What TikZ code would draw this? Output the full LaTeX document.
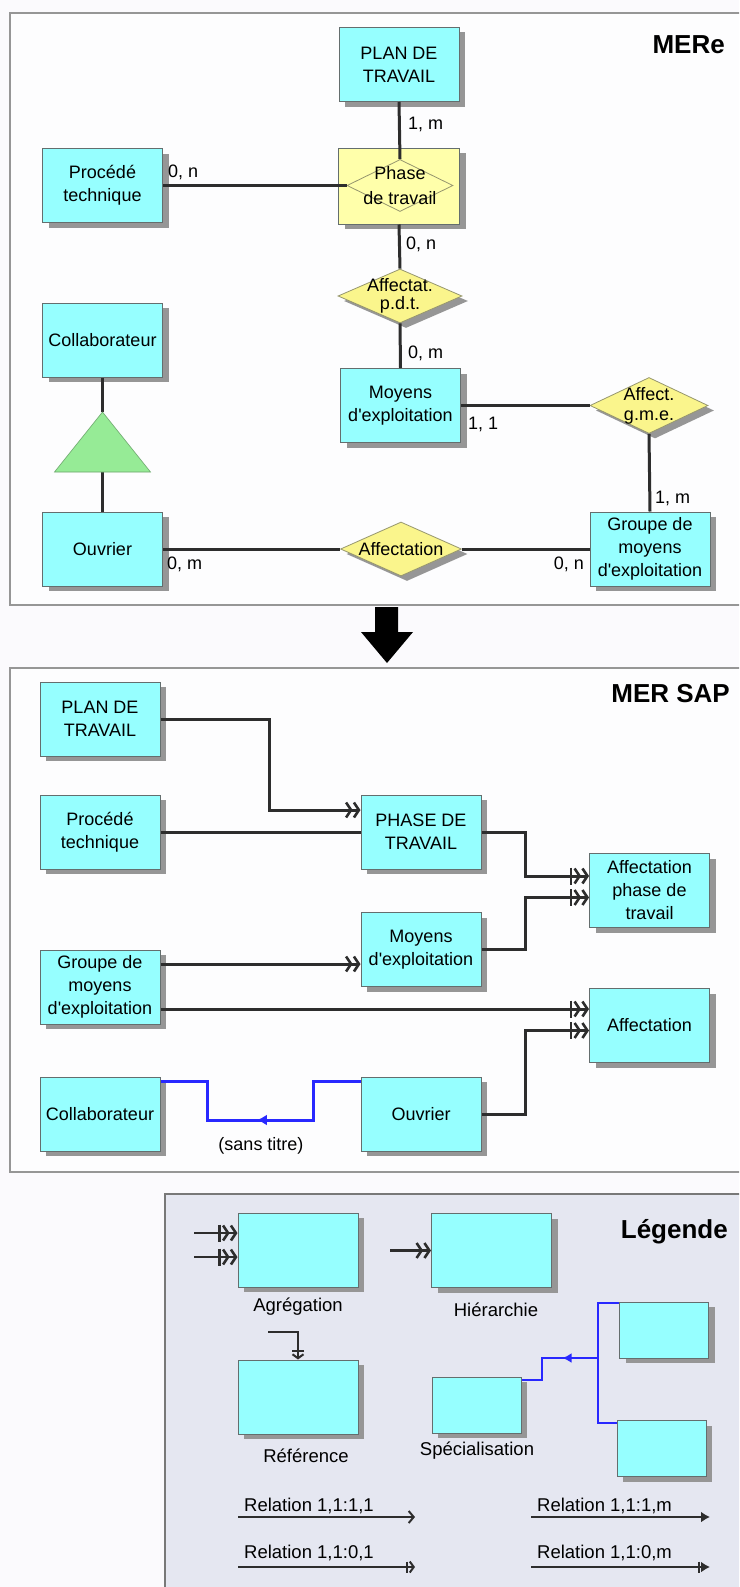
\documentclass[tikz,border=0pt]{standalone}
\usepackage{fontspec}
\setmainfont{Liberation Sans}[Ligatures=TeXOff]
\usepackage{xcolor}
\usetikzlibrary{arrows.meta,positioning,shapes.geometric,shadows,decorations.markings}

\definecolor{pagebg}{RGB}{251,250,253}
\definecolor{entcyan}{RGB}{150,255,255}
\definecolor{relyellow}{RGB}{250,245,140}
\definecolor{phaseyellow}{RGB}{255,255,170}
\definecolor{trigreen}{RGB}{150,235,150}
\definecolor{framegray}{RGB}{150,150,150}
\definecolor{legendfill}{RGB}{229,231,241}
\definecolor{boxline}{RGB}{100,110,110}
\definecolor{relline}{RGB}{150,150,110}
\definecolor{linkgray}{RGB}{45,45,45}
\definecolor{specblue}{RGB}{40,40,255}
\definecolor{shadowgray}{RGB}{150,150,150}

\begin{document}
\begin{tikzpicture}[
    x=1pt, y=-1pt,
    every node/.style={font=\fontsize{18}{23}\selectfont},
    shadowed/.style={drop shadow={shadow xshift=6pt, shadow yshift=-5pt, fill=shadowgray, opacity=1}},
    entity/.style={rectangle, draw=boxline, line width=1pt, fill=entcyan, minimum width=120pt, minimum height=74pt, align=center, inner sep=2pt, shadowed},
    smallbox/.style={entity, minimum width=89pt, minimum height=56pt},
    rel/.style={diamond, draw=relline, line width=0.8pt, fill=relyellow, inner sep=0pt},
    reltext/.style={align=center, font=\fontsize{18}{20}\selectfont, inner sep=0pt},
    card/.style={anchor=west, inner sep=0pt},
    legtext/.style={inner sep=0pt, font=\fontsize{18.5}{23}\selectfont},
    link/.style={draw=linkgray, line width=3pt},
    hier/.style={link, -{Straight Barb[length=5pt,width=15pt,line width=2.6pt] Straight Barb[length=5pt,width=15pt,line width=2.6pt]}},
    agg/.style={link, -{Bar[width=17pt,line width=2.4pt,sep=1pt] Straight Barb[length=5pt,width=15pt,line width=2.6pt] Straight Barb[length=5pt,width=15pt,line width=2.6pt]}},
    spec/.style={draw=specblue, line width=3pt},
    frame/.style={draw=framegray, line width=2pt},
    title/.style={anchor=east, inner sep=0pt, font=\fontsize{26}{30}\selectfont\bfseries},
]
\useasboundingbox (0,0) rectangle (739,1587);
\clip (0,0) rectangle (739,1587);
\fill[pagebg] (0,0) rectangle (739,1587);

% ---------------- MERe ----------------
\draw[frame, fill=white!60!pagebg] (10,13) rectangle (760,605);
\node[title] at (725,45) {MERe};

\node[entity] (plan1) at (399,64.5) {PLAN DE\\TRAVAIL};
\node[entity] (procede1) at (102.5,185.5) {Procédé\\technique};
\node[entity, fill=phaseyellow, minimum width=121pt, minimum height=76pt] (phbox) at (399,186) {};
\node[rel, fill=phaseyellow, minimum width=106pt, minimum height=52pt] (phase1) at (400,185.5) {};
\node[reltext, font=\fontsize{18}{25}\selectfont] at (phase1) {Phase\\de travail};
\node[rel, shadowed, minimum width=124pt, minimum height=54pt] (pdt) at (400,296) {};
\node[reltext, font=\fontsize{18}{18}\selectfont] at (pdt) {Affectat.\\p.d.t.};
\node[entity] (moyens1) at (400.5,405.5) {Moyens\\d'exploitation};
\node[rel, shadowed, minimum width=118pt, minimum height=56pt] (gme) at (649,405.5) {};
\node[reltext] at (gme) {Affect.\\g.m.e.};
\node[entity] (groupe1) at (650,549) {Groupe de\\moyens\\d'exploitation};
\node[rel, shadowed, minimum width=121pt, minimum height=54pt] (affect1) at (401,549) {};
\node[reltext] at (affect1) {Affectation};
\node[entity] (ouvrier1) at (102.5,549) {Ouvrier};
\node[entity] (collab1) at (102.5,340) {Collaborateur};

% generalisation triangle
\coordinate (tri top) at (102.5,412);
\coordinate (tri base) at (102.5,472);
\draw[link] (collab1.south) -- (tri top);
\draw[link] (tri base) -- (ouvrier1.north);
\filldraw[fill=trigreen, draw=trigreen!70!black, line width=0.6pt] (tri top) -- (150.5,472) -- (54.5,472) -- cycle;

\draw[link] (plan1.south) -- (phase1.north);
\draw[link] (procede1.east) -- (phase1.west);
\draw[link] (phbox.south) -- (pdt.north);
\draw[link] (pdt.south) -- (moyens1.north);
\draw[link] (moyens1.east) -- (gme.west);
\draw[link] (gme.south) -- (groupe1.north);
\draw[link] (ouvrier1.east) -- (affect1.west);
\draw[link] (affect1.east) -- (groupe1.west);

\node[card] at (408,124) {1, m};
\node[card] at (168,172) {0, n};
\node[card] at (406,244) {0, n};
\node[card] at (408,353) {0, m};
\node[card] at (468,424) {1, 1};
\node[card] at (655,498) {1, m};
\node[card] at (167,564) {0, m};
\node[card, anchor=east] at (584,564) {0, n};

% big arrow between the models
\fill[black] (375,607) -- (398,607) -- (398,632) -- (413,632) -- (387,663)
  -- (361,632) -- (375,632) -- cycle;

% ---------------- MER SAP ----------------
\draw[frame, fill=white!60!pagebg] (10,668) rectangle (760,1172);
\node[title] at (730,694) {MER SAP};

\node[entity] (plan2) at (100,719) {PLAN DE\\TRAVAIL};
\node[entity] (procede2) at (100,832) {Procédé\\technique};
\node[entity] (phase2) at (421,832) {PHASE DE\\TRAVAIL};
\node[entity] (apdt) at (649.5,890.5) {Affectation\\phase de\\travail};
\node[entity] (moyens2) at (421,949.5) {Moyens\\d'exploitation};
\node[entity] (groupe2) at (100,987) {Groupe de\\moyens\\d'exploitation};
\node[entity] (affect2) at (649.5,1025.5) {Affectation};
\node[entity] (collab2) at (100,1114) {Collaborateur};
\node[entity] (ouvrier2) at (421,1114) {Ouvrier};

\draw[hier] (plan2.east) -- ++(109,0) |- ([yshift=22pt]phase2.west);
\draw[link] (procede2.east) -- (phase2.west);
\draw[agg] (phase2.east) -- ++(44,0) |- ([yshift=14.5pt]apdt.west);
\draw[agg] (moyens2.east) -- ++(44,0) |- ([yshift=-7pt]apdt.west);
\draw[hier] ([yshift=23pt]groupe2.east) -- ([yshift=-14.5pt]moyens2.west);
\draw[agg] ([yshift=-22pt]groupe2.east) -- ([yshift=16.5pt]affect2.west);
\draw[agg] (ouvrier2.east) -- ++(44,0) |- ([yshift=-5pt]affect2.west);
\draw[spec, postaction={decorate}, decoration={markings,
    mark=at position 0.513 with {\arrow{Latex[length=10pt,width=11pt]}}}]
  ([yshift=33pt]ouvrier2.west) -- (313,1081) -- (313,1120) -- (207,1120)
  -- (207,1081) -- ([yshift=33pt]collab2.east);
\node at (261,1146) {(sans titre)};

% ---------------- Legende ----------------
\draw[frame, draw=framegray!80!black, fill=legendfill] (165,1194) rectangle (760,1600);
\node[title] at (728,1232) {Légende};

\node[entity] (aggbox) at (298,1250) {};
\node[entity] (hierbox) at (491.5,1250.5) {};
\node[entity] (refbox) at (298,1397) {};
\node[smallbox] (specbox) at (476.5,1405) {};
\node[smallbox] (spectop) at (664,1330) {};
\node[smallbox] (specbot) at (661.5,1448.5) {};

\coordinate (agg in1) at (194,1233);
\coordinate (agg in2) at (194,1257);
\coordinate (hier in) at (390,1250.5);
\coordinate (ref in) at (268,1332);
\draw[agg, line width=2.6pt] (agg in1) -- ([yshift=17pt]aggbox.west);
\draw[agg, line width=2.6pt] (agg in2) -- ([yshift=-7pt]aggbox.west);
\draw[hier, line width=2.6pt] (hier in) -- (hierbox.west);
\draw[link, line width=2.4pt, -{Bar[width=12pt,line width=2pt,sep=1pt] Straight Barb[length=4pt,width=11pt,line width=2pt]}] (ref in) -| (refbox.north);

\coordinate (bus top) at (598,1303);
\coordinate (bus mid) at (598,1358);
\coordinate (bus bot) at (598,1423);
\draw[spec, line width=2.6pt] ([yshift=27pt]spectop.west) -- (bus top) -- (bus bot) -- ([yshift=25.5pt]specbot.west);
\draw[spec, line width=2.6pt, postaction={decorate}, decoration={markings,
    mark=at position 0.36 with {\arrow{Latex[length=9pt,width=10pt]}}}]
  (bus mid) -- (542,1358) -- (542,1380) -- ([yshift=25pt]specbox.east);

\node[legtext] at (298,1307) {Agrégation};
\node[legtext] at (496,1310) {Hiérarchie};
\node[legtext] at (306,1456) {Référence};
\node[legtext] at (477,1451) {Spécialisation};

\coordinate (r1a) at (238,1517); \coordinate (r1b) at (415,1517);
\coordinate (r2a) at (531,1517); \coordinate (r2b) at (710,1517);
\coordinate (r3a) at (238,1567); \coordinate (r3b) at (415,1567);
\coordinate (r4a) at (531,1567); \coordinate (r4b) at (710,1567);
\node[legtext, anchor=west] at (244,1506) {Relation 1,1:1,1};
\node[legtext, anchor=west] at (537,1506) {Relation 1,1:1,m};
\node[legtext, anchor=west] at (244,1553) {Relation 1,1:0,1};
\node[legtext, anchor=west] at (537,1553) {Relation 1,1:0,m};
\draw[link, line width=2.4pt, -{Straight Barb[length=5pt,width=12pt,line width=2pt]}] (r1a) -- (r1b);
\draw[link, line width=2.4pt, -{Latex[length=9pt,width=11pt]}] (r2a) -- (r2b);
\draw[link, line width=2.4pt, -{Bar[width=11pt,line width=2pt,sep=1pt] Straight Barb[length=4pt,width=11pt,line width=2pt]}] (r3a) -- (r3b);
\draw[link, line width=2.4pt, -{Bar[width=11pt,line width=2pt,sep=1pt] Latex[length=9pt,width=11pt]}] (r4a) -- (r4b);
\end{tikzpicture}
\end{document}
